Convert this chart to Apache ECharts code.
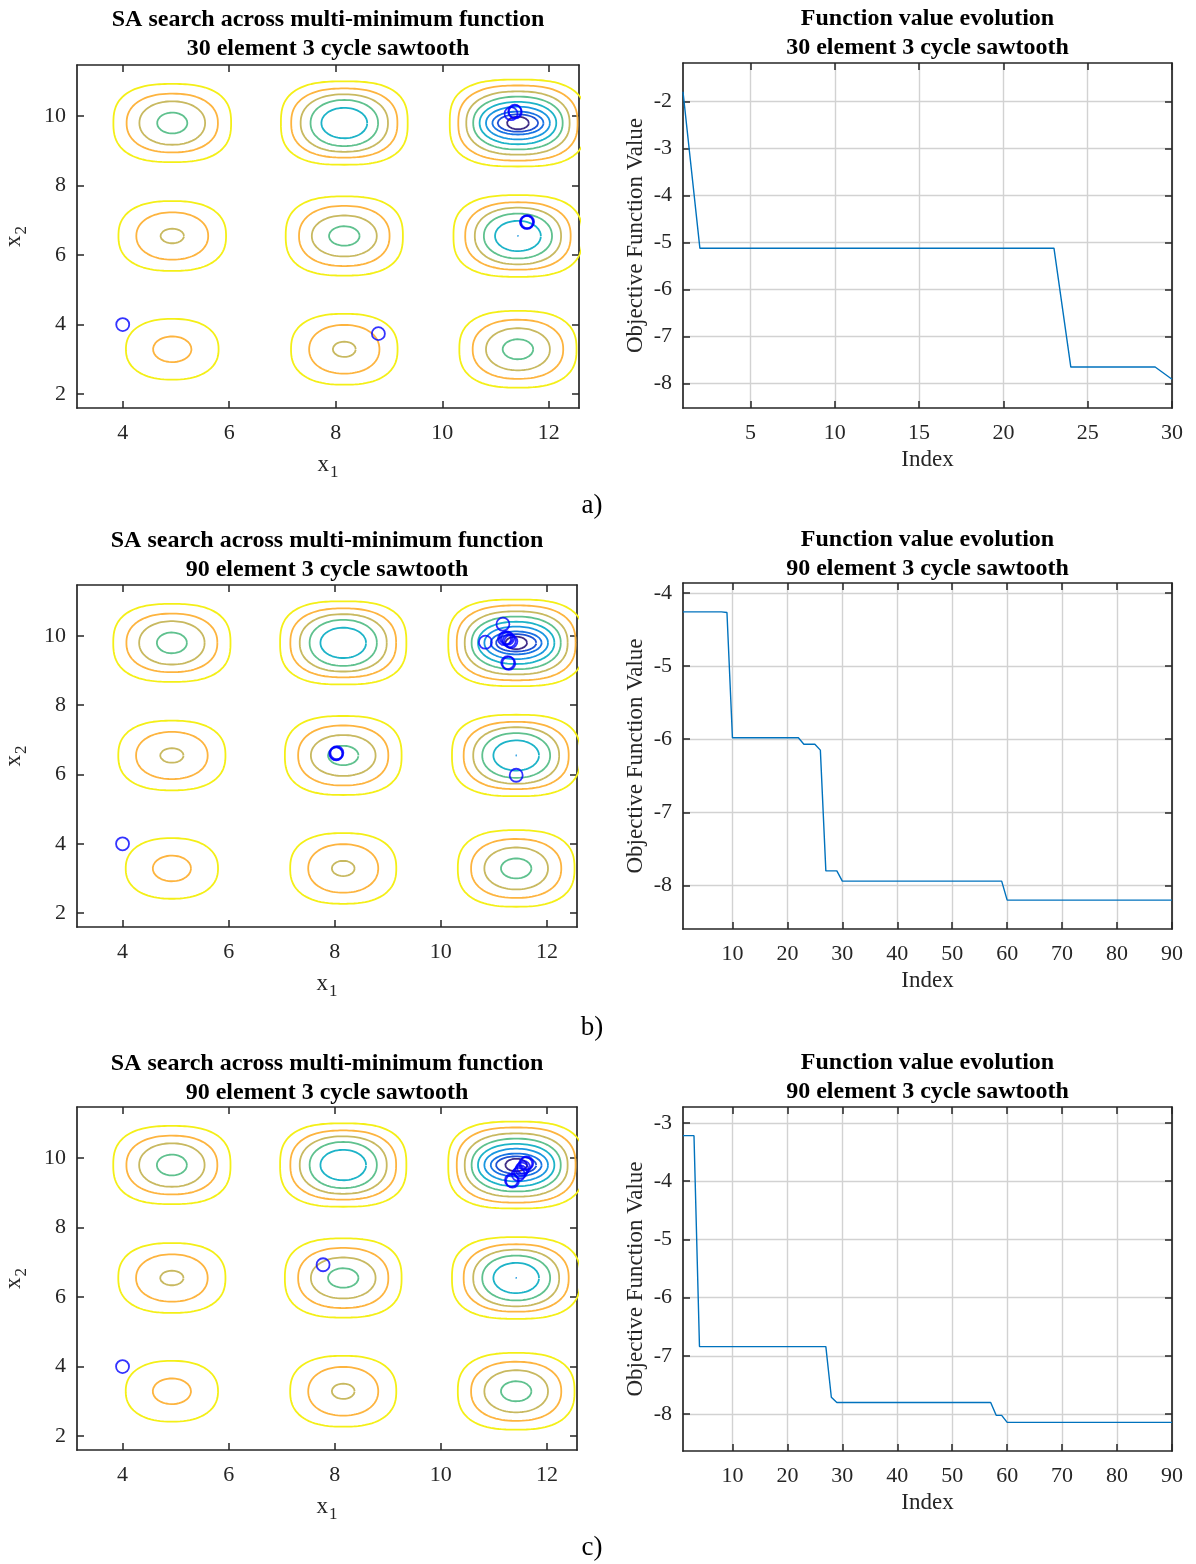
<!DOCTYPE html>
<html><head><meta charset="utf-8">
<script src="https://cdn.jsdelivr.net/npm/echarts@6/dist/echarts.min.js"></script>
<style>html,body{margin:0;padding:0;background:#fff}#c{width:1196px;height:1564px}</style>
</head><body><div id="c"></div><script>
// ---------------- DATA ----------------
// Contour-well centres (data units)
const wellX = [4.93, 8.16, 11.42];
const wellY = [3.29, 6.55, 9.80];
// Ring half-widths / half-heights per well (index = row*3+col, row 0 = bottom), outer -> inner level
const ringsX = [
  [0.87, 0.36],
  [1.00, 0.66, 0.215],
  [1.10, 0.85, 0.60, 0.287],
  [1.01, 0.675, 0.22],
  [1.10, 0.85, 0.61, 0.287],
  [1.21, 0.99, 0.81, 0.64, 0.43, 0.012],
  [1.105, 0.857, 0.617, 0.283],
  [1.19, 0.997, 0.82, 0.634, 0.43],
  [1.28, 1.12, 0.97, 0.84, 0.72, 0.60, 0.48, 0.38, 0.205]
];
const ringsY = [
  [0.875, 0.37],
  [1.02, 0.70, 0.22],
  [1.105, 0.85, 0.605, 0.288],
  [1.005, 0.68, 0.21],
  [1.14, 0.865, 0.59, 0.28],
  [1.175, 0.97, 0.815, 0.645, 0.435, 0.012],
  [1.125, 0.845, 0.625, 0.30],
  [1.20, 0.995, 0.827, 0.663, 0.4375],
  [1.25, 1.08, 0.91, 0.76, 0.61, 0.47, 0.33, 0.25, 0.18]
];
const levelColors = ['#f4ef17', '#fdb43f', '#c8b960', '#5fc18e', '#1db3c8', '#1a97e0', '#1873e4', '#1f52d4', '#3f2d86'];

// SA search points (x1, x2)
const ptsA = [[4,4],[8.80,3.74],[11.58,6.95],[11.60,6.96],[11.59,6.94],[11.29,10.07],[11.37,10.12],[11.36,10.14]];
const ptsB = [[4,4],[8.02,6.61],[8.04,6.63],[8.03,6.60],[11.42,5.98],[10.84,9.82],[11.17,10.34],[11.20,9.92],[11.23,9.95],[11.26,9.93],[11.29,9.86],[11.32,9.84],[11.26,9.23],[11.28,9.21]];
const ptsC = [[4,4],[7.78,6.93],[11.33,9.36],[11.35,9.34],[11.46,9.53],[11.50,9.60],[11.53,9.68],[11.56,9.73],[11.60,9.84],[11.62,9.86]];

// Function value evolution
const valsA = [-1.79,
  -5.12,-5.12,-5.12,-5.12,-5.12,-5.12,-5.12,-5.12,-5.12,-5.12,-5.12,
  -5.12,-5.12,-5.12,-5.12,-5.12,-5.12,-5.12,-5.12,-5.12,-5.12,-5.12,
  -7.65,-7.65,-7.65,-7.65,-7.65,-7.65,
  -7.91];
const valsB = [-4.26,-4.26,-4.26,-4.26,-4.26,-4.26,-4.26,-4.26,-4.27,
  -5.98,-5.98,-5.98,-5.98,-5.98,-5.98,-5.98,-5.98,-5.98,-5.98,-5.98,-5.98,-5.98,
  -6.07,-6.07,-6.07,-6.15,
  -7.80,-7.80,-7.80,
  -7.94,-7.94,-7.94,-7.94,-7.94,-7.94,-7.94,-7.94,-7.94,-7.94,
  -7.94,-7.94,-7.94,-7.94,-7.94,-7.94,-7.94,-7.94,-7.94,-7.94,
  -7.94,-7.94,-7.94,-7.94,-7.94,-7.94,-7.94,-7.94,-7.94,-7.94,
  -8.20,-8.20,-8.20,-8.20,-8.20,-8.20,-8.20,-8.20,-8.20,-8.20,
  -8.20,-8.20,-8.20,-8.20,-8.20,-8.20,-8.20,-8.20,-8.20,-8.20,
  -8.20,-8.20,-8.20,-8.20,-8.20,-8.20,-8.20,-8.20,-8.20,-8.20,-8.20];
const valsC = [-3.22,-3.22,-3.22,
  -6.84,-6.84,-6.84,-6.84,-6.84,-6.84,-6.84,-6.84,-6.84,-6.84,-6.84,-6.84,
  -6.84,-6.84,-6.84,-6.84,-6.84,-6.84,-6.84,-6.84,-6.84,-6.84,-6.84,-6.84,
  -7.71,
  -7.80,-7.80,-7.80,-7.80,-7.80,-7.80,-7.80,-7.80,-7.80,-7.80,
  -7.80,-7.80,-7.80,-7.80,-7.80,-7.80,-7.80,-7.80,-7.80,-7.80,
  -7.80,-7.80,-7.80,-7.80,-7.80,-7.80,-7.80,-7.80,-7.80,
  -8.02,-8.02,
  -8.14,-8.14,-8.14,-8.14,-8.14,-8.14,-8.14,-8.14,-8.14,-8.14,
  -8.14,-8.14,-8.14,-8.14,-8.14,-8.14,-8.14,-8.14,-8.14,-8.14,
  -8.14,-8.14,-8.14,-8.14,-8.14,-8.14,-8.14,-8.14,-8.14,-8.14,-8.14];

// Tick values
const contourXTicks = [4, 6, 8, 10, 12];
const contourYTicks = [2, 4, 6, 8, 10];
const idxTicksA = [5, 10, 15, 20, 25, 30];
const idxTicksBC = [10, 20, 30, 40, 50, 60, 70, 80, 90];
const valTicksA = [-8, -7, -6, -5, -4, -3, -2];
const valTicksB = [-8, -7, -6, -5, -4];
const valTicksC = [-8, -7, -6, -5, -4, -3];

const leftTitles = ['SA search across multi-minimum function\n30 element 3 cycle sawtooth',
  'SA search across multi-minimum function\n90 element 3 cycle sawtooth',
  'SA search across multi-minimum function\n90 element 3 cycle sawtooth'];
const rightTitles = ['Function value evolution\n30 element 3 cycle sawtooth',
  'Function value evolution\n90 element 3 cycle sawtooth',
  'Function value evolution\n90 element 3 cycle sawtooth'];
const panelLabels = ['a)', 'b)', 'c)'];

// ---------------- LAYOUT / STYLE ----------------
const FONT = 'Liberation Serif';
const AX = '#262626';
const leftGrids = [{left:77,top:65,width:502,height:343},{left:77,top:585,width:500,height:342},{left:77,top:1107,width:500,height:343}];
const rightGrids = [{left:683,top:63,width:489,height:345},{left:683,top:583,width:489,height:346},{left:683,top:1107,width:489,height:344}];
const titleY = [5, 526, 1049];
const labelY = [506, 1028, 1548];

const pts = [ptsA, ptsB, ptsC];
const vals = [valsA, valsB, valsC];
const idxTicks = [idxTicksA, idxTicksBC, idxTicksBC];
const valTicks = [valTicksA, valTicksB, valTicksC];

const grids = [], xAxes = [], yAxes = [], series = [], graphics = [];

function ringPts(cx, cy, rx, ry) {
  const r = Math.min((rx + ry) / 2 / 1.3, 1);
  const p = 2 + 0.95 * Math.pow(r, 3);
  const e = 2 / p;
  const out = [];
  for (let i = 0; i <= 180; i++) {
    const t = i / 180 * 2 * Math.PI;
    const c = Math.cos(t), s = Math.sin(t);
    out.push([cx + rx * Math.sign(c) * Math.pow(Math.abs(c), e),
              cy + ry * Math.sign(s) * Math.pow(Math.abs(s), e)]);
  }
  return out;
}

function addAxes(gi, xmin, xmax, ymin, ymax, xt, yt, xname, yname, xGap, yGap, split, richName) {
  const line = {show:true, onZero:false, lineStyle:{color:AX, width:1.7}};
  const tick = (cv) => ({show:true, inside:true, length:7, customValues:cv, lineStyle:{color:AX, width:1.5}});
  const lab = (cv, m) => ({show:true, customValues:cv, margin:m, fontFamily:FONT, fontSize:22, color:AX});
  const nts = {fontFamily:FONT, fontSize:23, color:AX,
    rich: richName ? {m:{fontFamily:FONT, fontSize:23, color:AX}, s:{fontFamily:FONT, fontSize:17, color:AX, padding:[15,0,0,1]}} : undefined};
  const spl = {show:split, lineStyle:{color:'#d2d2d2', width:1.4}};
  xAxes.push({type:'value', gridIndex:gi, position:'bottom', min:xmin, max:xmax, axisLine:line, axisTick:tick(xt),
    axisLabel:lab(xt, 14), splitLine:spl, name:xname, nameLocation:'middle', nameGap:xGap, nameTextStyle:nts});
  xAxes.push({type:'value', gridIndex:gi, position:'top', min:xmin, max:xmax, axisLine:line, axisTick:tick(xt),
    axisLabel:{show:false}, splitLine:{show:false}});
  yAxes.push({type:'value', gridIndex:gi, position:'left', min:ymin, max:ymax, axisLine:line, axisTick:tick(yt),
    axisLabel:lab(yt, 11), splitLine:spl, name:yname, nameLocation:'middle', nameRotate:90, nameGap:yGap, nameTextStyle:nts});
  yAxes.push({type:'value', gridIndex:gi, position:'right', min:ymin, max:ymax, axisLine:line, axisTick:tick(yt),
    axisLabel:{show:false}, splitLine:{show:false}});
}

for (let r = 0; r < 3; r++) {
  // ---- left: contour panel ----
  const gL = grids.length;
  grids.push(Object.assign({containLabel:false}, leftGrids[r]));
  addAxes(gL, Math.PI, 4 * Math.PI, 1.6, 11.47, contourXTicks, contourYTicks,
    '{m|x}{s|1}', '{m|x}{s|2}', 41, 47, false, true);
  for (let lv = 0; lv < levelColors.length; lv++) {
    const data = [];
    for (let w = 0; w < 9; w++) {
      if (ringsX[w].length > lv) {
        const cx = wellX[w % 3], cy = wellY[Math.floor(w / 3)];
        ringPts(cx, cy, ringsX[w][lv], ringsY[w][lv]).forEach(p => data.push(p));
        data.push(['-', '-']);
      }
    }
    series.push({type:'line', xAxisIndex:2*gL, yAxisIndex:2*gL, data:data, showSymbol:false, symbol:'none',
      connectNulls:false, clip:true, silent:true, animation:false, z:2,
      lineStyle:{color:levelColors[lv], width:1.8}});
  }
  series.push({type:'scatter', xAxisIndex:2*gL, yAxisIndex:2*gL, data:pts[r], symbol:'circle', symbolSize:13,
    silent:true, animation:false, z:5,
    itemStyle:{color:'rgba(0,0,0,0)', borderColor:'#0000ff', borderWidth:1.8}});

  // ---- right: value evolution ----
  const gR = grids.length;
  grids.push(Object.assign({containLabel:false}, rightGrids[r]));
  const v = vals[r];
  const vmax = Math.max.apply(null, v), vmin = Math.min.apply(null, v), rg = vmax - vmin;
  addAxes(gR, 1, v.length, vmin - 0.1 * rg, vmax + 0.1 * rg, idxTicks[r], valTicks[r],
    'Index', 'Objective Function Value', 40, 36, true, false);
  series.push({type:'line', xAxisIndex:2*gR, yAxisIndex:2*gR, data:v.map((y, i) => [i + 1, y]),
    showSymbol:false, symbol:'none', silent:true, animation:false, z:3,
    lineStyle:{color:'#0072bd', width:1.4}});

  // ---- titles and panel label ----
  graphics.push({type:'text', x: leftGrids[r].left + leftGrids[r].width / 2, y: titleY[r], silent:true,
    style:{text:leftTitles[r], fontFamily:FONT, fontWeight:'bold', fontSize:24, lineHeight:29, fill:'#000',
      textAlign:'center', textVerticalAlign:'top'}});
  graphics.push({type:'text', x: rightGrids[r].left + rightGrids[r].width / 2, y: titleY[r], silent:true,
    style:{text:rightTitles[r], fontFamily:FONT, fontWeight:'bold', fontSize:24, lineHeight:28.5, fill:'#000',
      textAlign:'center', textVerticalAlign:'top'}});
  graphics.push({type:'text', x: 592, y: labelY[r], silent:true,
    style:{text:panelLabels[r], fontFamily:FONT, fontSize:27, fill:'#000', textAlign:'center', textVerticalAlign:'middle'}});
}

const chart = echarts.init(document.getElementById('c'), null, {renderer:'canvas', width:1196, height:1564});
chart.setOption({
  backgroundColor:'#ffffff',
  animation:false,
  grid:grids, xAxis:xAxes, yAxis:yAxes, series:series, graphic:graphics
});
</script></body></html>
